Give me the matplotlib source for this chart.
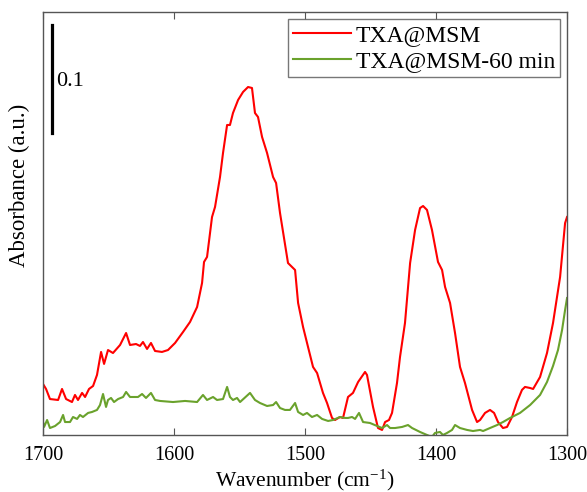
import numpy as np
import matplotlib
matplotlib.use("Agg")
import matplotlib.pyplot as plt

plt.rcParams['font.family'] = ['Liberation Serif', 'DejaVu Serif']
plt.rcParams['mathtext.fontset'] = 'custom'
plt.rcParams['mathtext.rm'] = 'Liberation Serif'
plt.rcParams['mathtext.it'] = 'Liberation Serif:italic'

# TXA@MSM (red)
wn_red = [1700, 1697.7, 1694.7, 1688.5, 1685.5, 1682.4, 1677.9, 1675.6, 1673.3, 1670.2,
          1667.9, 1664.9, 1661.8, 1658.8, 1655.7, 1653.4, 1650.4, 1646.6, 1641.2, 1636.6,
          1633.6, 1629.0, 1626.0, 1623.7, 1620.6, 1617.6, 1614.5, 1609.2, 1604.6, 1599.2,
          1593.1, 1587.8, 1582.4, 1578.6, 1577.1, 1574.8, 1571.0, 1568.7, 1564.9, 1562.6,
          1559.5, 1557.3, 1555.0, 1551.1, 1547.3, 1543.5, 1540.5, 1538.2, 1535.9, 1532.8,
          1529.0, 1524.4, 1522.1, 1519.1, 1513.0, 1507.6, 1505.3, 1501.5, 1497.7, 1493.9,
          1490.8, 1486.3, 1483.2, 1479.4, 1477.1, 1473.3, 1471.0, 1467.2, 1463.4, 1459.5,
          1454.2, 1452.7, 1448.1, 1444.3, 1441.2, 1438.9, 1435.9, 1433.6, 1429.8, 1427.5,
          1423.7, 1419.8, 1416.0, 1412.2, 1409.9, 1406.9, 1403.1, 1398.5, 1395.4, 1393.1,
          1389.3, 1385.5, 1381.7, 1377.9, 1372.5, 1368.7, 1366.4, 1362.6, 1358.8, 1355.7,
          1352.7, 1348.9, 1345.8, 1342.0, 1338.2, 1334.4, 1332.1, 1328.2, 1325.9, 1320.6,
          1315.3, 1310.7, 1305.3, 1301.5, 1300]
abs_red = [0.0477, 0.0430, 0.0336, 0.0327, 0.0430, 0.0336, 0.0308, 0.0374, 0.0327, 0.0393,
           0.0355, 0.0430, 0.0458, 0.0561, 0.0776, 0.0664, 0.0794, 0.0766, 0.0841, 0.0953,
           0.0841, 0.0850, 0.0832, 0.0869, 0.0804, 0.0860, 0.0785, 0.0776, 0.0794, 0.0860,
           0.0963, 0.1056, 0.1196, 0.1421, 0.1617, 0.1664, 0.2037, 0.2131, 0.2411, 0.2636,
           0.2897, 0.2897, 0.3009, 0.3131, 0.3206, 0.3252, 0.3243, 0.3009, 0.2972, 0.2785,
           0.2636, 0.2411, 0.2355, 0.2075, 0.1607, 0.1542, 0.1234, 0.1009, 0.0822, 0.0636,
           0.0579, 0.0393, 0.0299, 0.0159, 0.0140, 0.0168, 0.0159, 0.0355, 0.0393, 0.0495,
           0.0589, 0.0561, 0.0262, 0.0065, 0.0047, 0.0121, 0.0140, 0.0206, 0.0486, 0.0729,
           0.1047, 0.1607, 0.1916, 0.2121, 0.2140, 0.2103, 0.1916, 0.1617, 0.1542, 0.1383,
           0.1234, 0.0953, 0.0636, 0.0486, 0.0234, 0.0121, 0.0140, 0.0206, 0.0234, 0.0206,
           0.0121, 0.0065, 0.0075, 0.0168, 0.0308, 0.0421, 0.0449, 0.0439, 0.0430, 0.0542,
           0.0766, 0.1047, 0.1477, 0.1980, 0.2037]

# TXA@MSM-60 min (green)
wn_green = [1700, 1699.2, 1696.9, 1694.7, 1690.8, 1687.0, 1684.7, 1683.2, 1679.4, 1677.1,
            1674.0, 1671.8, 1669.5, 1665.6, 1662.6, 1658.8, 1656.5, 1654.2, 1651.9, 1650.4,
            1648.1, 1645.8, 1642.7, 1638.9, 1636.6, 1633.6, 1629.8, 1627.5, 1624.4, 1621.4,
            1617.6, 1614.5, 1610.7, 1600.8, 1591.6, 1582.4, 1577.9, 1574.8, 1570.2, 1567.2,
            1562.6, 1559.5, 1557.3, 1555.0, 1551.9, 1549.6, 1542.0, 1538.2, 1534.4, 1529.0,
            1524.4, 1522.1, 1519.1, 1515.3, 1511.5, 1507.6, 1505.3, 1501.5, 1498.5, 1494.7,
            1490.8, 1487.0, 1482.4, 1478.6, 1473.3, 1469.5, 1467.2, 1464.1, 1461.8, 1458.8,
            1455.7, 1450.4, 1445.0, 1441.2, 1437.4, 1435.1, 1431.3, 1425.9, 1421.4, 1418.3,
            1412.2, 1406.9, 1403.1, 1400.8, 1397.0, 1394.7, 1391.6, 1387.8, 1385.5, 1381.7,
            1376.3, 1371.8, 1366.4, 1364.1, 1358.8, 1353.4, 1348.9, 1343.5, 1335.9, 1328.2,
            1320.6, 1315.3, 1310.7, 1306.9, 1303.8, 1301.5, 1300]
abs_green = [0.0121, 0.0075, 0.0140, 0.0065, 0.0084, 0.0121, 0.0187, 0.0121, 0.0121, 0.0168,
             0.0150, 0.0187, 0.0168, 0.0206, 0.0215, 0.0234, 0.0280, 0.0383, 0.0262, 0.0327,
             0.0346, 0.0308, 0.0336, 0.0355, 0.0402, 0.0355, 0.0355, 0.0355, 0.0383, 0.0346,
             0.0393, 0.0327, 0.0318, 0.0308, 0.0318, 0.0308, 0.0374, 0.0327, 0.0355, 0.0327,
             0.0336, 0.0449, 0.0355, 0.0327, 0.0346, 0.0308, 0.0393, 0.0327, 0.0299, 0.0271,
             0.0280, 0.0308, 0.0252, 0.0234, 0.0234, 0.0299, 0.0215, 0.0187, 0.0206, 0.0168,
             0.0187, 0.0150, 0.0131, 0.0140, 0.0168, 0.0159, 0.0159, 0.0168, 0.0150, 0.0206,
             0.0121, 0.0112, 0.0084, 0.0065, 0.0093, 0.0065, 0.0065, 0.0075, 0.0093, 0.0065,
             0.0028, 0.0000, -0.0019, 0.0019, 0.0028, 0.0000, 0.0019, 0.0047, 0.0093, 0.0065,
             0.0047, 0.0037, 0.0047, 0.0037, 0.0065, 0.0093, 0.0121, 0.0159, 0.0206, 0.0280,
             0.0374, 0.0495, 0.0645, 0.0794, 0.0981, 0.1168, 0.1280]

x_ticks = [1700, 1600, 1500, 1400, 1300]

fig = plt.figure(figsize=(5.87, 4.92), dpi=100)
ax = fig.add_axes([0.0733, 0.1159, 0.8927, 0.8597])

ax.plot(wn_red, abs_red, color='#ff0000', lw=1.5, label='TXA@MSM')
ax.plot(wn_green, abs_green, color='#6aa22c', lw=1.5, label='TXA@MSM-60 min')

ax.set_xlim(1700, 1300)
ax.set_ylim(0, 0.3953)
ax.set_xticks(x_ticks)
ax.set_yticks([])
ax.tick_params(axis='x', direction='in', top=True, length=5, labelsize=14.5,
               pad=8, color='#555555')
for s in ax.spines.values():
    s.set_color('#555555')
    s.set_linewidth(1.0)

ax.set_xlabel('Wavenumber (cm$^{-1}$)', fontsize=15.5, labelpad=2)
ax.set_ylabel('Absorbance (a.u.)', fontsize=16.5)
ax.yaxis.set_label_coords(-0.024, 0.59)

# scale bar
ax.plot([0.0172, 0.0172], [0.714, 0.969], color='black', lw=2.3, transform=ax.transAxes)
ax.text(0.025, 0.835, '0.1', transform=ax.transAxes, fontsize=16, va='center', ha='left')

leg = ax.legend(loc='upper right', fontsize=17, frameon=True, fancybox=False,
                handlelength=2.45, borderaxespad=0.3, borderpad=0.22, labelspacing=0.2,
                handletextpad=0.2)
leg.get_frame().set_edgecolor('#555555')
leg.get_frame().set_linewidth(1.0)

fig.savefig('out.png', dpi=100)
